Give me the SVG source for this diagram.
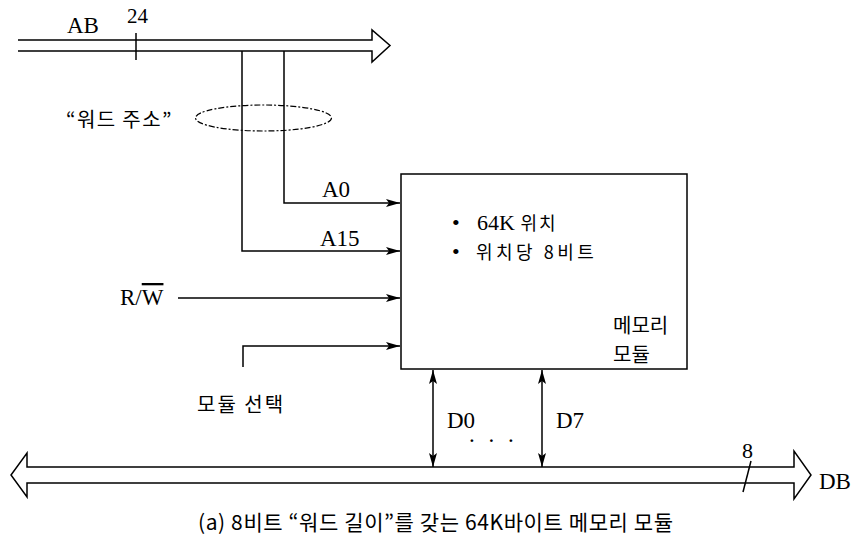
<svg xmlns="http://www.w3.org/2000/svg" width="856" height="544" viewBox="0 0 856 544">
<style>
.ln{stroke:#000;stroke-width:1.5;fill:none}
.lat{font-family:"Liberation Serif",serif;font-size:23px;fill:#000}
.kr{font-family:"Noto Sans CJK KR",sans-serif;font-size:20px;fill:#000}
.bus{stroke:#000;stroke-width:1.5;fill:#fff;stroke-linejoin:miter}
</style>
<defs>
<marker id="ah" viewBox="0 0 14 8" refX="14" refY="4" markerWidth="14" markerHeight="8" markerUnits="userSpaceOnUse" orient="auto-start-reverse">
<path d="M0,0 L14,4 L0,8 L3,4 Z" fill="#000"/>
</marker>
</defs>
<rect width="856" height="544" fill="#fff"/>
<g id="connectors">
<path id="ab-bus" class="bus" d="M18,40 H372 V30 L390,45.5 L372,62 V51 H18"/>
<line class="ln" x1="136" y1="33" x2="136" y2="60"/>
<path class="ln" d="M284,51 V203 H400" marker-end="url(#ah)"/>
<path class="ln" d="M242,51 V251 H400" marker-end="url(#ah)"/>
<path class="ln" d="M178,298 H400" marker-end="url(#ah)"/>
<path class="ln" d="M243,367 V346 H400" marker-end="url(#ah)"/>
<ellipse cx="263.5" cy="118" rx="68" ry="13" fill="none" stroke="#000" stroke-width="1.2" stroke-dasharray="6,2,2,2"/>
<path id="db-bus" class="bus" d="M27,467 V453 L11,475 L27,497 V483 H794 V499 L811,475 L794,451 V467 Z"/>
<line class="ln" x1="433" y1="370" x2="433" y2="467" marker-start="url(#ah)" marker-end="url(#ah)"/>
<line class="ln" x1="542" y1="370" x2="542" y2="467" marker-start="url(#ah)" marker-end="url(#ah)"/>
<line class="ln" x1="751" y1="461" x2="743" y2="492"/>
</g>
<g id="memory-module">
<rect x="401" y="174" width="286" height="195" fill="none" stroke="#000" stroke-width="1.5"/>
<text class="lat" x="452" y="230" style="font-size:22px">•</text>
<text class="lat" x="477" y="230" style="font-size:22px">64K <tspan class="kr" style="font-size:18px;letter-spacing:2px">위치</tspan></text>
<text class="lat" x="452" y="259" style="font-size:22px">•</text>
<text class="kr" x="476" y="259" style="font-size:18px;letter-spacing:3.5px">위치당 8비트</text>
<text class="kr" x="613" y="333">메모리</text>
<text class="kr" x="613" y="362">모듈</text>
</g>
<g id="labels">
<text class="lat" x="67" y="33">AB</text>
<text class="lat" x="127" y="23" style="font-size:21px">24</text>
<text class="kr" x="66" y="127" style="letter-spacing:1.4px">“워드 주소”</text>
<text class="lat" x="322" y="197">A0</text>
<text class="lat" x="320" y="246">A15</text>
<text class="lat" x="120" y="305">R/<tspan text-decoration="overline">W</tspan></text>
<text class="kr" x="197" y="412" style="letter-spacing:2px">모듈 선택</text>
<text class="lat" x="447" y="428">D0</text>
<text class="lat" x="556" y="428">D7</text>
<text class="lat" x="469" y="442" style="letter-spacing:4px">. . .</text>
<text class="lat" x="742" y="458" style="font-size:22px">8</text>
<text class="lat" x="819" y="489">DB</text>
<text class="kr" x="198" y="530" style="font-size:21px;letter-spacing:0.6px">(a) 8비트 “워드 길이”를 갖는 64K바이트 메모리 모듈</text>
</g>
</svg>
